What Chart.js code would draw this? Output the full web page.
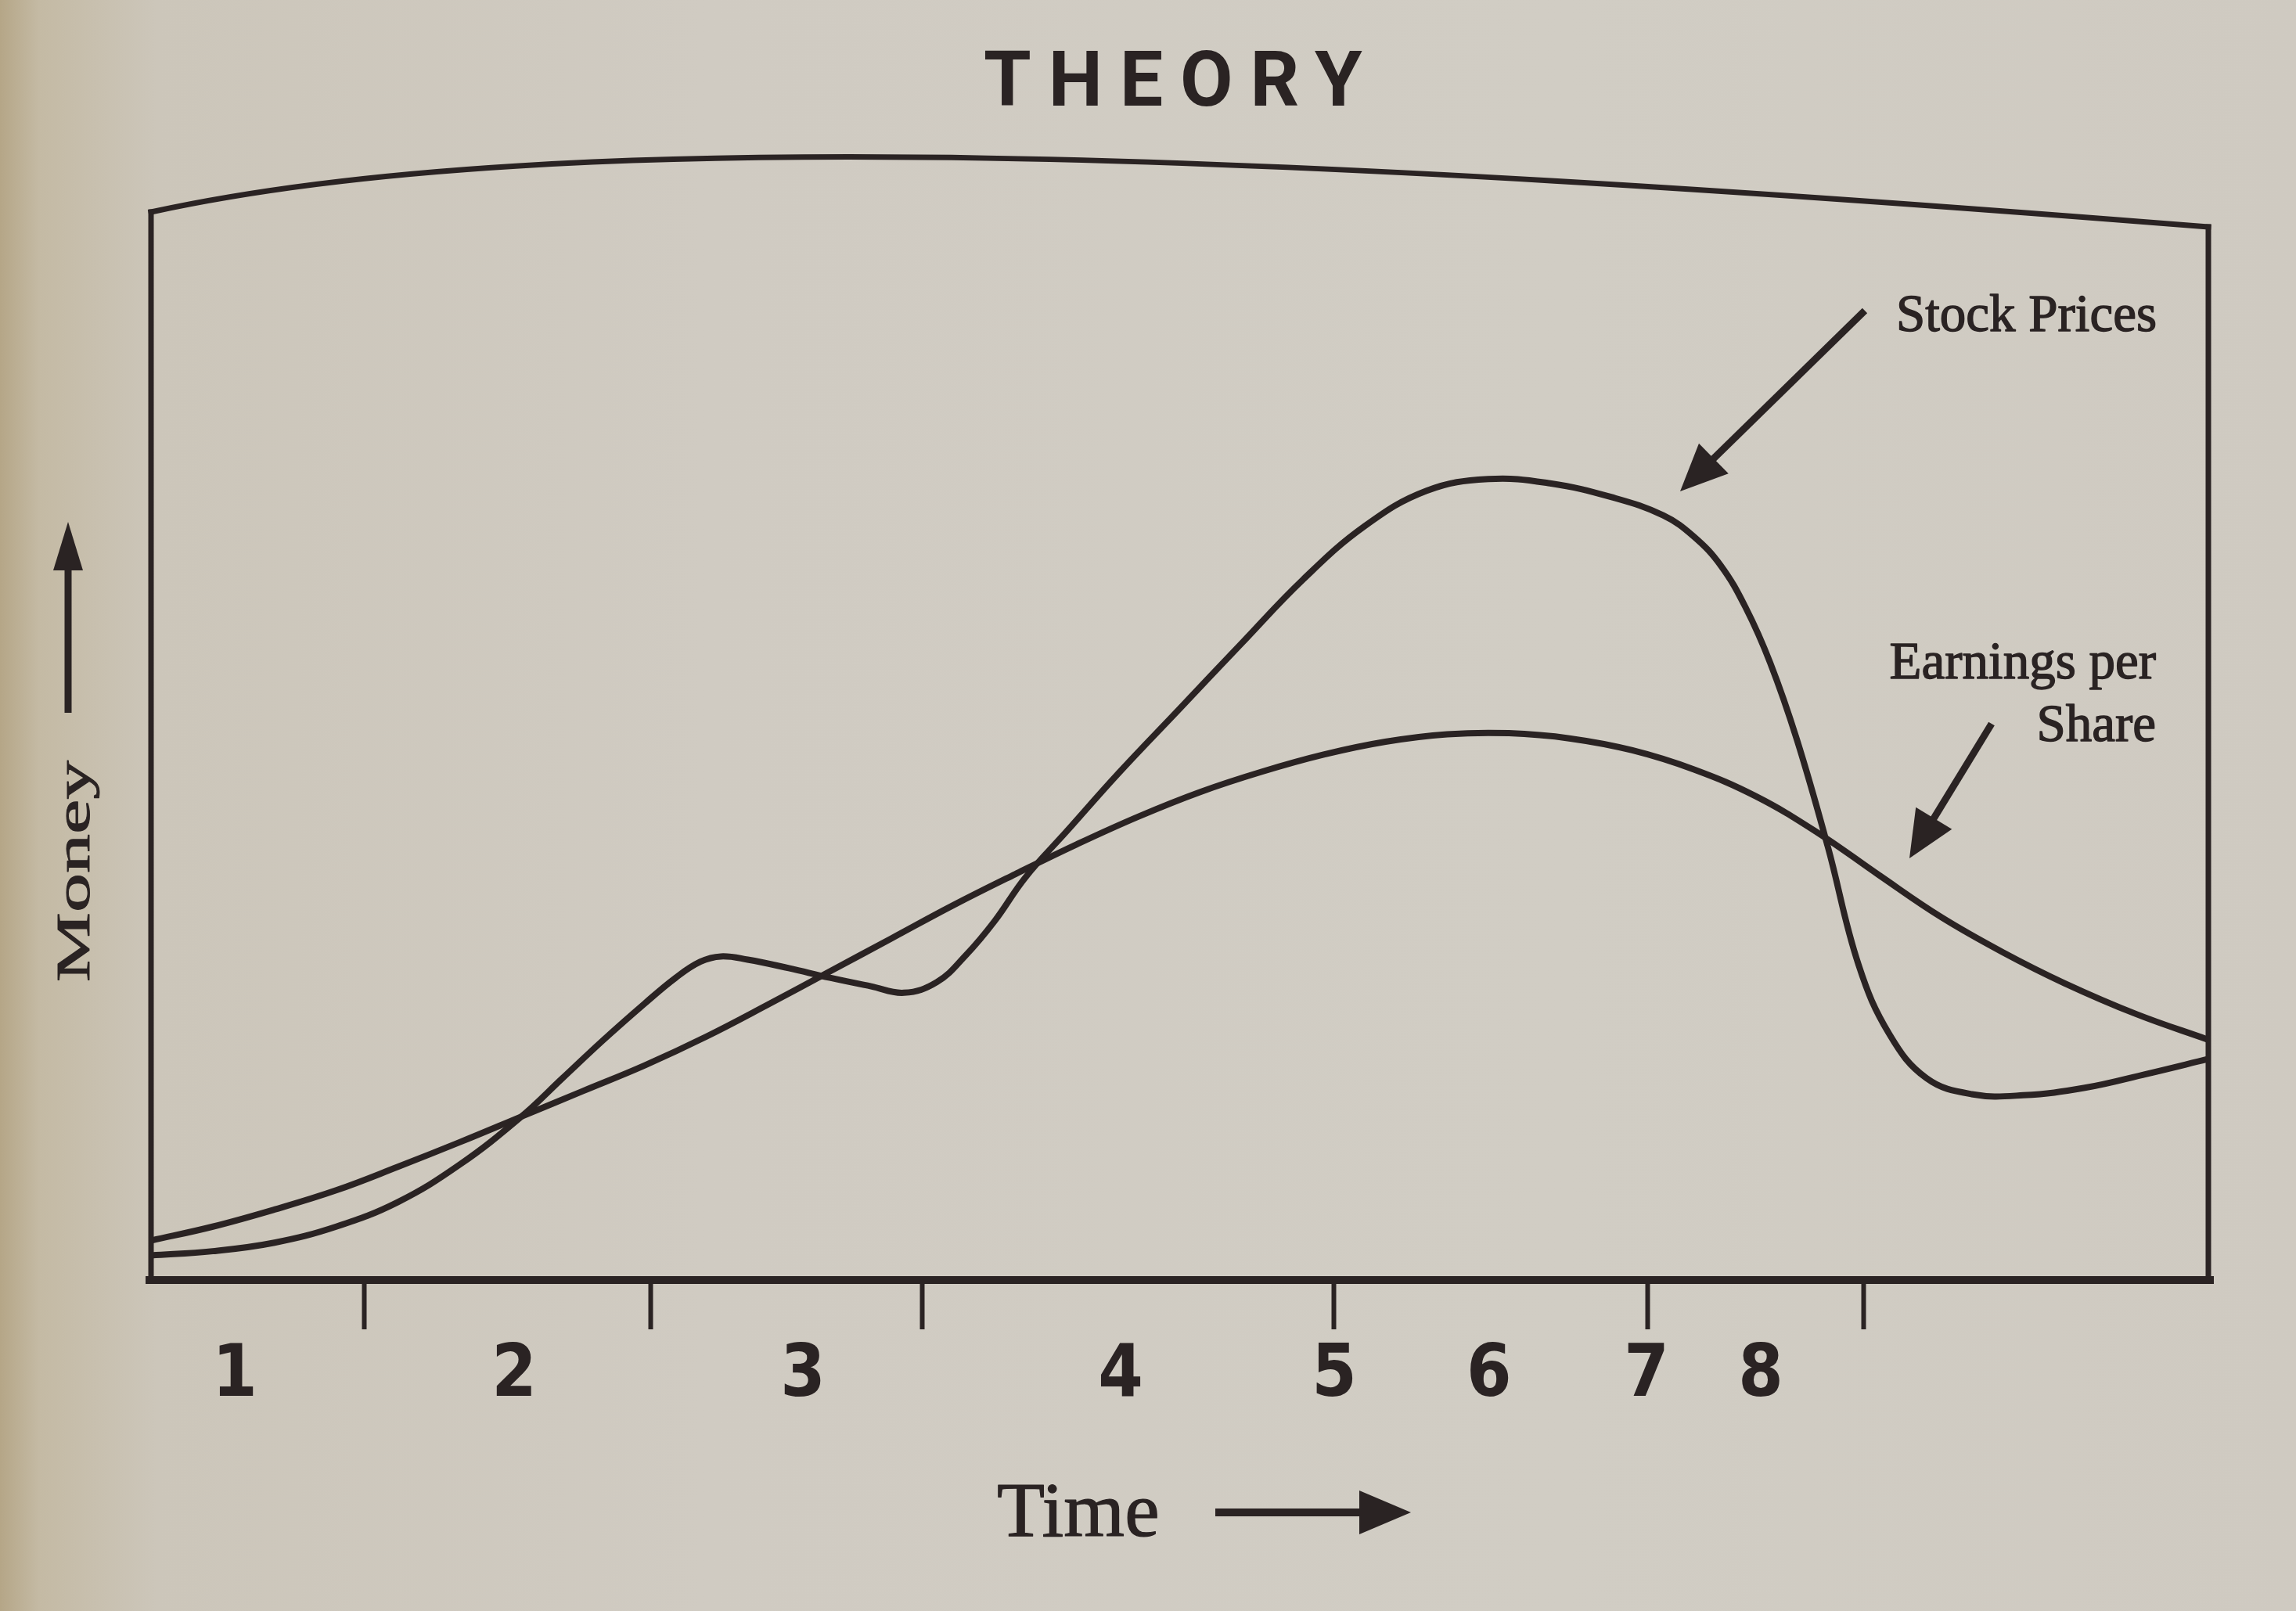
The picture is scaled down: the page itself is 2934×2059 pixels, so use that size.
<!DOCTYPE html>
<html><head><meta charset="utf-8">
<script src="https://cdn.jsdelivr.net/npm/chart.js@4.4.1/dist/chart.umd.min.js"></script>
<style>
html,body{margin:0;padding:0;width:2934px;height:2059px;overflow:hidden;
background: linear-gradient(90deg, #b5a687 0px, #c4baa4 50px, #ccc6ba 200px, #d0cbc2 900px, #d1cdc4 2000px, #cfcac1 2934px);}
canvas{display:block;}
</style></head><body>
<canvas id="c" width="2934" height="2059"></canvas>
<script>
// ---- data (x = time 0..100, y = money 0..100) ----
const stockTime  = [0, 3, 6, 9, 12, 15, 18, 20, 22, 24, 25.5, 26.7, 27.7, 29, 31, 33, 35, 36.6, 38.2, 39.6, 41, 42.5, 44.5, 47, 50, 53, 56, 59, 62, 65, 68, 71, 73.5, 75, 76.3, 77.5, 78.7, 80, 81.5, 83, 84.5, 86.3, 88.5, 91, 94, 97, 100];
const stockPrice = [2.3, 2.7, 3.5, 5.0, 7.3, 10.8, 15.3, 18.9, 22.5, 25.9, 28.3, 29.8, 30.3, 30.0, 29.2, 28.3, 27.5, 26.9, 27.9, 30.4, 33.6, 37.7, 42.0, 47.4, 53.5, 59.6, 65.6, 70.6, 73.9, 75.0, 74.6, 73.3, 71.6, 69.6, 66.9, 63.0, 57.8, 50.6, 40.6, 29.5, 23.0, 18.9, 17.4, 17.3, 18.0, 19.3, 20.7];
const epsTime  = [0, 3, 6, 9, 12, 15, 18, 21, 24, 27, 30, 33, 36, 39, 42, 45, 48, 51, 54, 57, 60, 63, 66, 69, 72, 75, 78, 81, 84, 87, 90, 93, 96.5, 100];
const epsValue = [3.7, 5.0, 6.6, 8.4, 10.6, 12.9, 15.3, 17.7, 20.1, 22.8, 25.8, 28.9, 32.0, 35.1, 38.0, 40.8, 43.4, 45.7, 47.6, 49.2, 50.4, 51.1, 51.2, 50.7, 49.6, 47.8, 45.3, 41.9, 37.9, 34.0, 30.7, 27.8, 24.9, 22.5];
const phaseLabels    = ['1', '2', '3', '4', '5', '6', '7', '8'];
const phasePositions = [4.07, 17.65, 31.69, 47.13, 57.51, 65.04, 72.69, 78.24];
const tickPositions  = [10.38, 24.27, 37.5, 57.51, 72.73, 83.26];
const seriesNames = ['Stock Prices', 'Earnings per Share'];

const INK = '#2a2323';

function toPoints(xs, ys){ return xs.map((x, i) => ({x: x, y: ys[i]})); }

function arrow(ctx, x1, y1, x2, y2, headLen, headHalf, lw){
  const a = Math.atan2(y2 - y1, x2 - x1);
  const bx = x2 - Math.cos(a) * headLen, by = y2 - Math.sin(a) * headLen;
  ctx.save();
  ctx.strokeStyle = INK; ctx.fillStyle = INK; ctx.lineWidth = lw; ctx.lineCap = 'butt';
  ctx.beginPath(); ctx.moveTo(x1, y1); ctx.lineTo(bx + Math.cos(a) * 4, by + Math.sin(a) * 4); ctx.stroke();
  ctx.beginPath();
  ctx.moveTo(x2, y2);
  ctx.lineTo(bx + Math.sin(a) * headHalf, by - Math.cos(a) * headHalf);
  ctx.lineTo(bx - Math.sin(a) * headHalf, by + Math.cos(a) * headHalf);
  ctx.closePath(); ctx.fill();
  ctx.restore();
}

function boldText(ctx, txt, x, y, w){
  ctx.fillText(txt, x, y);
  ctx.lineWidth = w; ctx.strokeStyle = INK; ctx.lineJoin = 'round';
  ctx.strokeText(txt, x, y);
}

const framePlugin = {
  id: 'frame',
  afterDatasetsDraw(chart){
    const ctx = chart.ctx, a = chart.chartArea;
    const W = a.right - a.left;
    ctx.save();
    ctx.strokeStyle = INK; ctx.lineCap = 'square'; ctx.lineJoin = 'miter';
    ctx.lineWidth = 7;
    ctx.beginPath(); ctx.moveTo(a.left, a.top); ctx.lineTo(a.left, a.bottom); ctx.stroke();
    ctx.beginPath(); ctx.moveTo(a.right, a.top + 19); ctx.lineTo(a.right, a.bottom); ctx.stroke();
    ctx.beginPath(); ctx.moveTo(a.left, a.top);
    ctx.bezierCurveTo(a.left + 0.2 * W, a.top - 115, a.left + 0.55 * W, a.top - 75, a.right, a.top + 19);
    ctx.stroke();
    ctx.lineWidth = 10;
    ctx.beginPath(); ctx.moveTo(a.left - 2, a.bottom); ctx.lineTo(a.right + 2, a.bottom); ctx.stroke();
    ctx.restore();
  },
  afterDraw(chart){
    const ctx = chart.ctx;
    ctx.save();
    ctx.fillStyle = INK;
    // title
    ctx.font = 'bold 98px Roboto, "DejaVu Sans", sans-serif';
    ctx.textBaseline = 'alphabetic'; ctx.textAlign = 'left';
    try { ctx.letterSpacing = '22px'; } catch(e) {}
    ctx.fillText('THEORY', 1257, 135);
    try { ctx.letterSpacing = '0px'; } catch(e) {}
    // x axis title
    ctx.font = '100px "Liberation Serif", "DejaVu Serif", serif';
    boldText(ctx, 'Time', 1274, 1963, 1.2);
    arrow(ctx, 1553, 1933, 1803, 1933, 66, 28, 10);
    // y axis title (rotated)
    ctx.save();
    ctx.translate(114, 1255);
    ctx.rotate(-Math.PI / 2);
    ctx.scale(1, 0.62);
    ctx.font = '100px "Liberation Serif", "DejaVu Serif", serif';
    boldText(ctx, 'Money', 0, 0, 1.5);
    ctx.restore();
    arrow(ctx, 87, 911, 87, 667, 62, 19, 9);
    // annotations
    ctx.font = '67px "Liberation Serif", "DejaVu Serif", serif';
    ctx.textAlign = 'right';
    boldText(ctx, seriesNames[0], 2756, 423, 1.4);
    boldText(ctx, 'Earnings per', 2755, 867, 1.4);
    boldText(ctx, 'Share', 2755, 947, 1.4);
    arrow(ctx, 2383, 397, 2147, 628, 60, 27, 9);
    arrow(ctx, 2545, 925, 2440, 1097, 60, 27, 9);
    ctx.restore();
  }
};

new Chart(document.getElementById('c'), {
  type: 'line',
  data: {
    datasets: [
      { label: seriesNames[0], data: toPoints(stockTime, stockPrice), xAxisID: 'x', yAxisID: 'y',
        borderColor: INK, borderWidth: 8, pointRadius: 0, fill: false, tension: 0.4 },
      { label: seriesNames[1], data: toPoints(epsTime, epsValue), xAxisID: 'x', yAxisID: 'y',
        borderColor: INK, borderWidth: 8, pointRadius: 0, fill: false, tension: 0.4 }
    ]
  },
  options: {
    responsive: false, animation: false, devicePixelRatio: 1,
    layout: { padding: { left: 193, right: 112, top: 271, bottom: 220 } },
    plugins: { legend: { display: false }, tooltip: { enabled: false }, title: { display: false } },
    scales: {
      xt: {
        type: 'linear', position: 'bottom', weight: 0, min: 0, max: 100,
        grid: { display: true, drawOnChartArea: false, drawTicks: true, tickLength: 63, tickWidth: 6, tickColor: INK },
        border: { display: false },
        ticks: { display: false },
        afterBuildTicks: s => { s.ticks = tickPositions.map(v => ({ value: v })); },
        afterFit: s => { s.height = 63; }
      },
      x: {
        type: 'linear', position: 'bottom', weight: 1, min: 0, max: 100,
        grid: { display: false, drawTicks: false },
        border: { display: false },
        ticks: {
          autoSkip: false, maxRotation: 0, minRotation: 0, padding: 6, color: INK,
          font: { family: '"Liberation Sans Narrow", "DejaVu Sans Condensed", Roboto, sans-serif', size: 92, weight: 'bold' },
          callback: (v, i) => phaseLabels[i]
        },
        afterBuildTicks: s => { s.ticks = phasePositions.map(v => ({ value: v })); },
        afterFit: s => { s.height = 140; }
      },
      y: { type: 'linear', display: false, min: 0, max: 100 }
    }
  },
  plugins: [framePlugin]
});
</script>
</body></html>
